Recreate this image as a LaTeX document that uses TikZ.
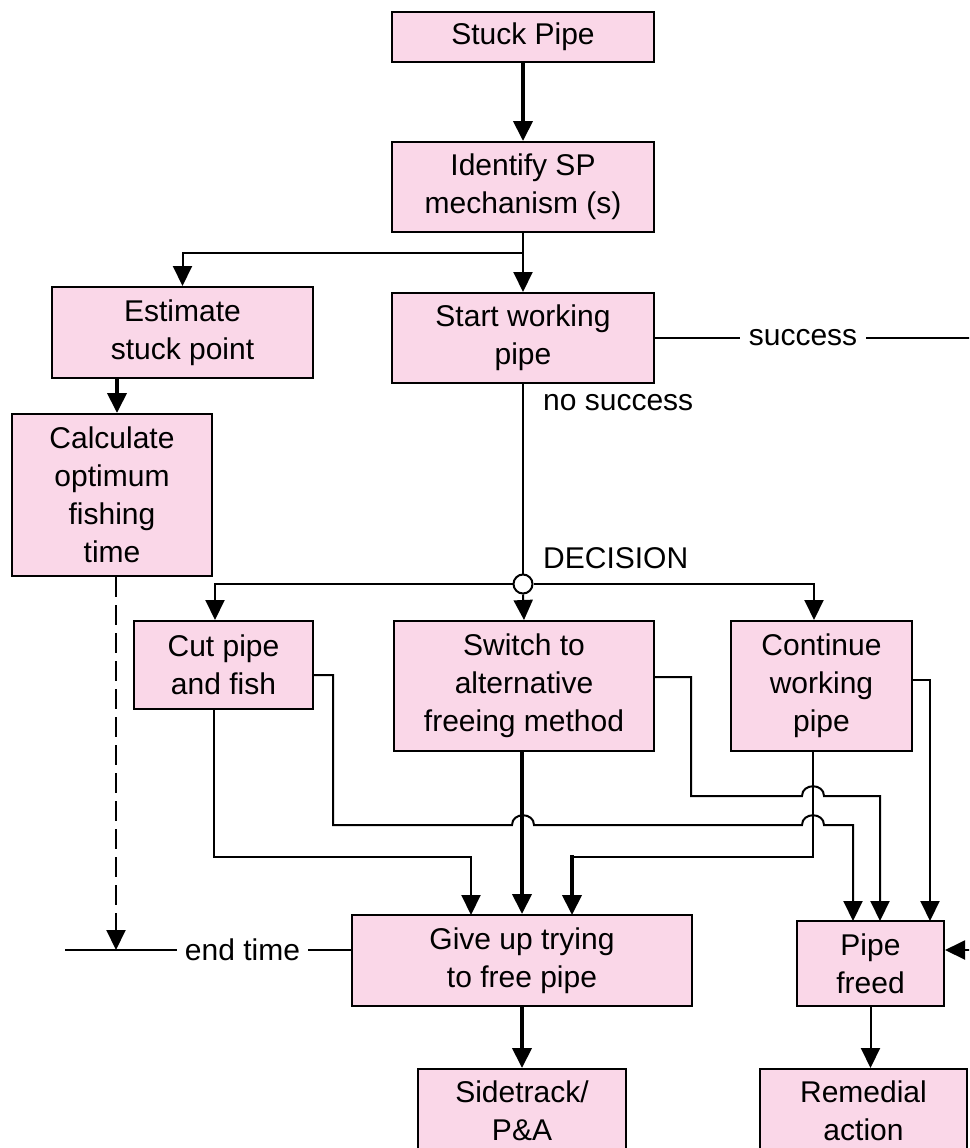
\documentclass[tikz,border=0pt]{standalone}
\usepackage{fontspec}
\setmainfont{Liberation Sans}
\usetikzlibrary{arrows.meta}
\definecolor{boxpink}{RGB}{250,215,232}
\begin{document}
\begin{tikzpicture}[x=1pt,y=-1pt,
  txt/.style={font=\fontsize{30}{38}\selectfont},
  box/.style={txt,draw=black,line width=2pt,fill=boxpink,inner sep=0pt,align=center},
  ln/.style={line width=2pt},
  thk/.style={line width=4pt},
  tip/.style={-{Triangle[width=19pt,length=20pt]}},
  lbl/.style={txt,fill=white,inner xsep=9pt,inner ysep=0pt}]
\useasboundingbox (0,0) rectangle (969,1148);
\clip (0,0) rectangle (969,1148);
\fill[white] (0,0) rectangle (969,1148);

% boxes
\node[box,minimum width=262pt,minimum height=50pt] (sp) at (523,37) {Stuck Pipe};
\node[box,minimum width=262pt,minimum height=90pt] (id) at (523,187) {Identify SP\\mechanism (s)};
\node[box,minimum width=261pt,minimum height=91pt] (est) at (182.5,332.5) {Estimate\\stuck point};
\node[box,minimum width=262pt,minimum height=90pt] (swp) at (523,338) {Start working\\pipe};
\node[box,minimum width=200pt,minimum height=162pt] (calc) at (112,495) {Calculate\\optimum\\fishing\\time};
\node[box,minimum width=179pt,minimum height=88pt] (cut) at (223.5,665) {Cut pipe\\and fish};
\node[box,minimum width=260pt,minimum height=130pt] (sw) at (524,686) {Switch to\\alternative\\freeing method};
\node[box,minimum width=181pt,minimum height=130pt] (cont) at (821.5,686) {Continue\\working\\pipe};
\node[box,minimum width=340pt,minimum height=91pt] (gu) at (522,960.5) {Give up trying\\to free pipe};
\node[box,minimum width=147pt,minimum height=85pt] (pf) at (870.5,963.5) {Pipe\\freed};
\node[box,minimum width=208pt,minimum height=84pt] (st) at (522,1111) {Sidetrack/\\P\&A};
\node[box,minimum width=207pt,minimum height=84pt] (ra) at (863.5,1111) {Remedial\\action};

\node[circle,draw=black,line width=2pt,fill=white,minimum size=19pt,inner sep=0pt] (dec) at (523,584) {};

% helper coordinates
\coordinate (j1) at (523,253);
\coordinate (xa) at (117,0);
\coordinate (xd) at (116,0);
\coordinate (xcut) at (215,0);
\coordinate (xcont) at (814,0);
\coordinate (xcb) at (214,0);
\coordinate (xcc) at (813,0);
\coordinate (ysucc) at (0,338);
\coordinate (yend) at (0,950);
\coordinate (etl) at (65,950);

% top part
\draw[thk,tip] (sp.south) -- (id.north);
\draw[ln] (id.south) -- (j1);
\draw[ln,tip] (j1) -- (swp.north);
\draw[ln,tip] (j1) -| (est.north);
\draw[thk,tip] (xa |- est.south) -- (xa |- calc.north);

% success
\draw[ln,tip] (swp.east) -- (985,338) -- (985,950) -- (pf.east |- yend);
\node[lbl] at (803,338) {success};
\node[txt,anchor=west,inner sep=0pt] (nos) at (543,403) {no success};
\node[txt,anchor=west,inner sep=0pt] (dtx) at (543,558) {DECISION};

% decision
\draw[ln] (swp.south) -- (dec.north);
\draw[ln,tip] (dec.south) -- (sw.north);
\draw[ln,tip] (dec.west) -| (xcut |- cut.north);
\draw[ln,tip] (dec.east) -| (xcont |- cont.north);

% end time
\draw[ln,dash pattern=on 20pt off 8pt,tip] (xd |- calc.south) -- (116,950);
\draw[ln] (etl) -- (gu.west |- yend);
\node[lbl,inner xsep=8pt] at (242.5,950) {end time};

% cut pipe outputs
\draw[ln,tip] (xcb |- cut.south) -- (214,857) -- (471,857) -- (471,915);
\draw[ln,tip] (cut.east |- 0,675) -- (333,675) -- (333,825) -- (512,825)
  .. controls (512,812) and (534,812) .. (534,825) -- (802,825)
  .. controls (802,812) and (824,812) .. (824,825) -- (853,825) -- (853,921);

% switch outputs
\draw[thk,tip] (sw.south -| gu.north) -- (gu.north);
\draw[ln,tip] (sw.east |- 0,677) -- (691,677) -- (691,796) -- (802,796)
  .. controls (802,783) and (824,783) .. (824,796) -- (880,796) -- (880,921);

% continue outputs
\draw[ln] (xcc |- cont.south) -- (813,857) -- (570,857);
\draw[thk,tip] (572,855) -- (572,915);
\draw[ln,tip] (cont.east |- 0,680) -- (930,680) -- (930,921);

% bottom
\draw[thk,tip] (gu.south) -- (st.north);
\draw[ln,tip] (pf.south) -- (pf.south |- ra.north);
\end{tikzpicture}
\end{document}
